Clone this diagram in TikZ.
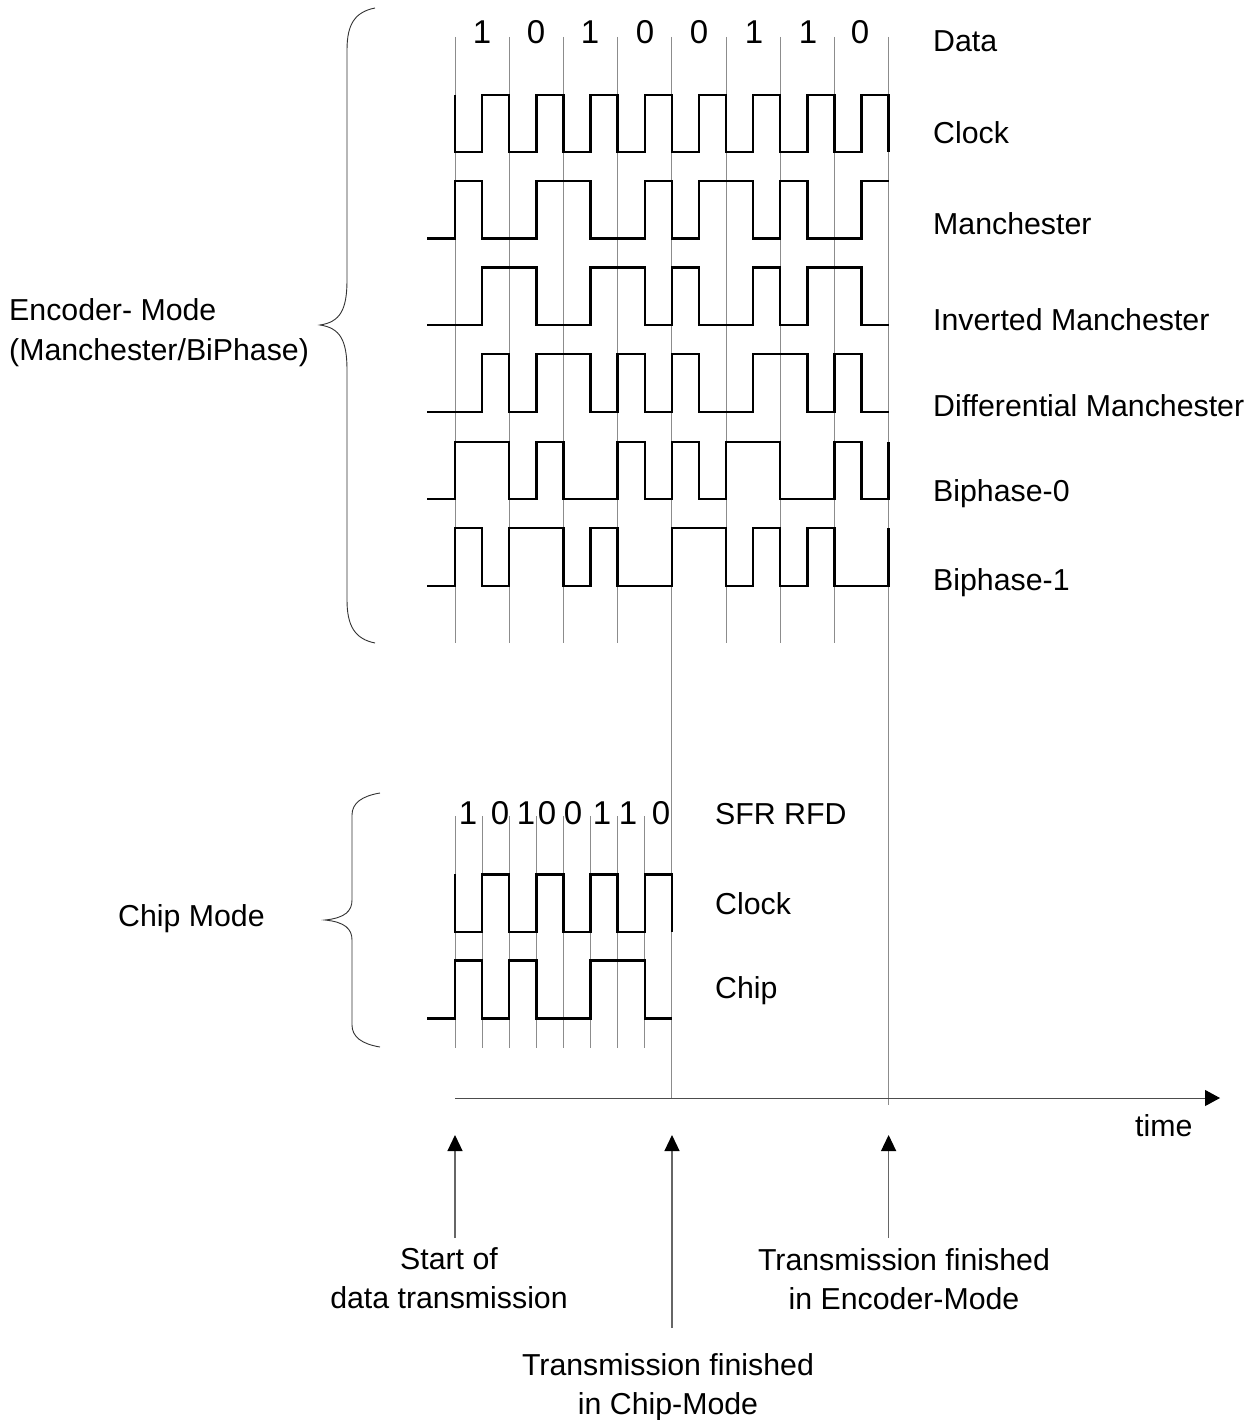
\documentclass[tikz,border=0pt]{standalone}
\usepackage{fontspec}
\setmainfont{Liberation Sans}
\usetikzlibrary{arrows.meta}
\tikzset{
  gridline/.style={draw=black!45,line width=0.8pt},
  sigline/.style={draw=black,line width=2.4pt,line join=miter},
  bracket/.style={draw=black!80,line width=0.9pt},
  timeline/.style={draw=black!70,line width=1pt,-{Triangle[length=15pt,width=16pt,color=black]}},
  pointer/.style={draw=black!60,line width=1.2pt,-{Triangle[length=16pt,width=15pt,color=black]}},
  lbl/.style={font=\fontsize{30.3}{39}\selectfont,inner sep=0pt,anchor=base west},
  txt/.style={font=\fontsize{30.3}{39}\selectfont,inner sep=0pt,align=center},
  bitlbl/.style={font=\fontsize{33}{39}\selectfont,inner sep=0pt}
}
\begin{document}
\begin{tikzpicture}[x=1pt,y=-1pt]
\useasboundingbox (0,0) rectangle (1258,1420);

% bit cells
\foreach \i in {0,2,...,14} \draw[gridline] (\i*27.1+455,37) -- (\i*27.1+455,643);
\draw[gridline] (888.6,37) -- (888.6,1105);
\draw[gridline] (671.8,643) -- (671.8,1098);
\foreach \i in {0,...,7} \draw[gridline] (\i*27.1+455,816) -- (\i*27.1+455,1048);

% encoder signals
\draw[sigline] (455,95) |- (482.1,152) |- (509.2,95) |- (536.3,152) |- (563.4,95) |- (590.5,152) |- (617.6,95) |- (644.7,152) |- (671.8,95) |- (698.9,152) |- (725.9,95) |- (753.1,152) |- (780.2,95) |- (807.3,152) |- (834.4,95) |- (861.5,152) |- (888.6,95) -- (888.6,152);
\draw[sigline] (427,238.7) -| (455,181) -| (482.1,238.7) -| (536.3,181) -| (590.5,238.7) -| (644.7,181) -| (671.8,238.7) -| (698.9,181) -| (753.1,238.7) -| (780.2,181) -| (807.3,238.7) -| (861.5,181) -- (888.6,181);
\draw[sigline] (427,325) -| (482.1,267.5) -| (536.3,325) -| (590.5,267.5) -| (644.7,325) -| (671.8,267.5) -| (698.9,325) -| (753.1,267.5) -| (780.2,325) -| (807.3,267.5) -| (861.5,325) -- (888.6,325);
\draw[sigline] (427,412) -| (482.1,354) -| (509.2,412) -| (536.3,354) -| (590.5,412) -| (617.6,354) -| (644.7,412) -| (671.8,354) -| (698.9,412) -| (753.1,354) -| (807.3,412) -| (834.4,354) -| (861.5,412) -- (888.6,412);
\draw[sigline] (427,499) -| (455,441.7) -| (509.2,499) -| (536.3,441.7) -| (563.4,499) -| (617.6,441.7) -| (644.7,499) -| (671.8,441.7) -| (698.9,499) -| (725.9,441.7) -| (780.2,499) -| (834.4,441.7) -| (861.5,499) -| (888.6,441.7);
\draw[sigline] (427,585.7) -| (455,527.7) -| (482.1,585.7) -| (509.2,527.7) -| (563.4,585.7) -| (590.5,527.7) -| (617.6,585.7) -| (671.8,527.7) -| (725.9,585.7) -| (753.1,527.7) -| (780.2,585.7) -| (807.3,527.7) -| (834.4,585.7) -| (888.6,527.7);

% chip signals
\draw[sigline] (455,874.3) |- (482.1,931.7) |- (509.2,874.3) |- (536.3,931.7) |- (563.4,874.3) |- (590.5,931.7) |- (617.6,874.3) |- (644.7,931.7) |- (671.8,874.3) -- (671.8,931.7);
\draw[sigline] (427,1018.3) -| (455,960.3) -| (482.1,1018.3) -| (509.2,960.3) -| (536.3,1018.3) -| (590.5,960.3) -| (644.7,1018.3) -- (671.8,1018.3);

% bits
\foreach \x/\b in {482/1,536/0,590/1,645/0,699/0,754/1,808/1,860/0}
  \node[bitlbl] (bit\x) at (\x,32) {\b};
\foreach \x/\b in {468/1,500/0,526/1,547/0,573/0,602/1,628/1,661/0}
  \node[bitlbl] (chipbit\x) at (\x,813) {\b};

% signal names
\node[lbl] (data) at (933,52) {Data};
\node[lbl] (clock) at (933,144) {Clock};
\node[lbl] (manch) at (933,235) {Manchester};
\node[lbl] (invmanch) at (933,330) {Inverted Manchester};
\node[lbl] (diffmanch) at (933,416) {Differential Manchester};
\node[lbl] (biphz) at (933,501) {Biphase-0};
\node[lbl] (biphe) at (933,590) {Biphase-1};
\node[lbl] (sfr) at (715,824) {SFR RFD};
\node[lbl] (chipclock) at (715,914) {Clock};
\node[lbl] (chip) at (715,998) {Chip};

% braces
\draw[bracket] (375,8) .. controls (355,12) and (347,24) .. (347,50) -- (347,280) .. controls (347,310) and (340,322) .. (320,325) .. controls (340,328) and (347,340) .. (347,370) -- (347,600) .. controls (347,626) and (355,639) .. (375,643);
\draw[bracket] (380,793) .. controls (362,796) and (352,803) .. (352,815) -- (352,900) .. controls (352,911) and (345,918) .. (325,920) .. controls (345,922) and (352,929) .. (352,940) -- (352,1025) .. controls (352,1037) and (362,1044) .. (380,1047);
\node[lbl] (encmode) at (9,320) {Encoder- Mode};
\node[lbl] (encsub) at (9,360) {(Manchester/BiPhase)};
\node[lbl] (chipmode) at (118,926) {Chip Mode};

% time axis
\coordinate (tstart) at (455,1098);
\coordinate (tend) at (1220,1098);
\draw[timeline] (tstart) -- (tend);
\node[lbl] (time) at (1135,1136) {time};

% events
\node[txt] (startlbl) at (449,1278) {Start of\\data transmission};
\node[txt] (chiplbl) at (668,1387) {Transmission finished\\in Chip-Mode};
\node[txt] (enclbl) at (904,1279) {Transmission finished\\in Encoder-Mode};
\coordinate (startpt) at (455,1135);
\coordinate (chippt) at (672,1135);
\coordinate (encpt) at (888.6,1135);
\draw[pointer,shorten <=9pt] (startlbl.north -| startpt) -- (startpt);
\draw[pointer,shorten <=25pt] (chiplbl.north -| chippt) -- (chippt);
\draw[pointer,shorten <=10pt] (enclbl.north -| encpt) -- (encpt);
\end{tikzpicture}
\end{document}
